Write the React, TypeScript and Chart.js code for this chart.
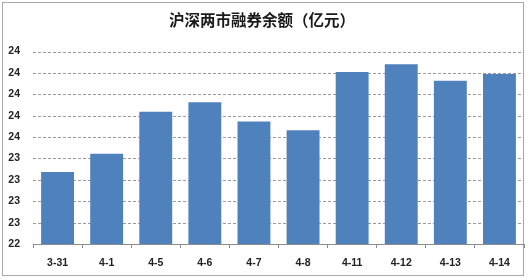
import React, { useEffect, useRef } from "react";
import { Chart, registerables } from "chart.js";

Chart.register(...registerables);

const title = "沪深两市融券余额（亿元）";
const categories = ["3-31", "4-1", "4-5", "4-6", "4-7", "4-8", "4-11", "4-12", "4-13", "4-14"];
const balances = [23.14, 23.33, 23.76, 23.86, 23.66, 23.57, 24.17, 24.25, 24.08, 24.15];
const yTickLabels = ["22", "23", "23", "23", "23", "24", "24", "24", "24", "24"];
const yMin = 22.4;
const yStep = 0.22;

const dashedGrid = {
  id: "dashedGrid",
  beforeDatasetsDraw(chart: any) {
    const { ctx, chartArea, scales } = chart;
    const y = scales.y;
    ctx.save();
    ctx.strokeStyle = "#9a9a9a";
    ctx.lineWidth = 1;
    ctx.setLineDash([3, 2]);
    y.ticks.forEach((t: any, i: number) => {
      if (i === 0) return;
      const py = Math.round(y.getPixelForValue(t.value)) + 0.5;
      ctx.beginPath();
      ctx.moveTo(chartArea.left, py);
      ctx.lineTo(chartArea.right, py);
      ctx.stroke();
    });
    ctx.restore();
  },
};

export default function App() {
  const ref = useRef<HTMLCanvasElement | null>(null);

  useEffect(() => {
    document.body.style.margin = "0";
    const canvas = ref.current;
    if (!canvas) return;
    const chart = new Chart(canvas, {
      type: "bar",
      data: {
        labels: categories,
        datasets: [
          {
            data: balances,
            backgroundColor: "#4F81BD",
            borderWidth: 0,
            barPercentage: 0.67,
            categoryPercentage: 1,
          },
        ],
      },
      options: {
        responsive: false,
        animation: false,
        layout: { padding: { left: 0, right: 5, top: 0, bottom: 0 } },
        plugins: {
          legend: { display: false },
          tooltip: { enabled: false },
          title: {
            display: true,
            text: title,
            color: "#1a1a1a",
            font: { family: "'Noto Sans CJK SC', sans-serif", size: 15.5, weight: "bold", lineHeight: 1.2 },
            padding: { top: 11, bottom: 22 },
          },
        },
        scales: {
          x: {
            grid: {
              drawOnChartArea: false,
              drawTicks: true,
              tickLength: 4,
              color: "#8c8c8c",
              offset: true,
            },
            border: { display: true, color: "#8c8c8c", width: 1 },
            ticks: {
              color: "#222",
              font: { family: "'Liberation Sans', Arial, sans-serif", size: 10.5, weight: "bold" },
              padding: 9,
              maxRotation: 0,
              autoSkip: false,
            },
            afterFit: (scale: any) => {
              scale.height = 36;
            },
          },
          y: {
            min: yMin,
            max: yMin + yStep * (yTickLabels.length - 1),
            afterBuildTicks: (scale: any) => {
              scale.ticks = yTickLabels.map((_, i) => ({ value: yMin + yStep * i }));
            },
            grid: {
              drawOnChartArea: false,
              drawTicks: false,
            },
            border: { display: false },
            ticks: {
              color: "#222",
              font: { family: "'Liberation Sans', Arial, sans-serif", size: 10.5, weight: "bold" },
              padding: 13,
              callback: (_v: any, i: number) => yTickLabels[i],
            },
            afterFit: (scale: any) => {
              scale.width = 33;
            },
          },
        },
      },
      plugins: [dashedGrid],
    });
    return () => chart.destroy();
  }, []);

  return (
    <div style={{ position: "relative", width: 529, height: 280, background: "#fff" }}>
      <div
        style={{
          position: "absolute",
          left: 2,
          top: 2,
          width: 522,
          height: 274,
          border: "1px solid #a8a8a8",
          boxSizing: "border-box",
        }}
      />
      <canvas ref={ref} width={529} height={280} style={{ position: "absolute", left: 0, top: 0 }} />
    </div>
  );
}
